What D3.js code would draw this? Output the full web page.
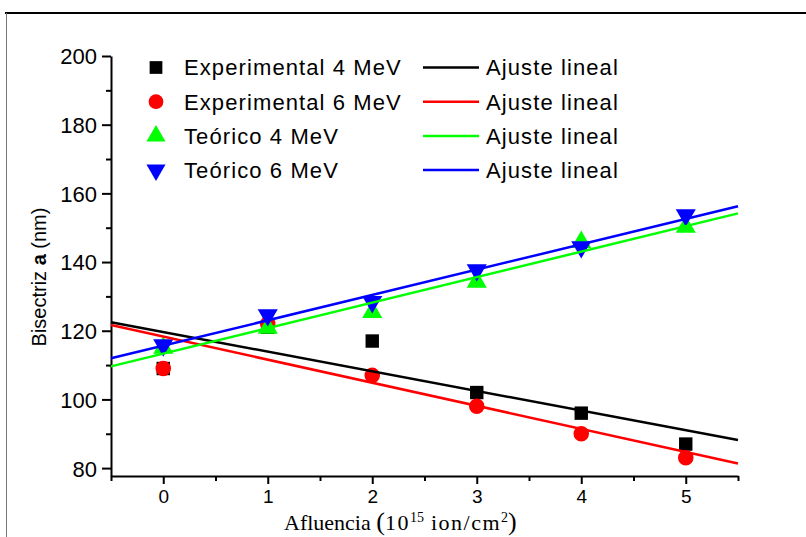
<!DOCTYPE html>
<html>
<head>
<meta charset="utf-8">
<script src="https://cdn.jsdelivr.net/npm/d3@7"></script>
<style>
  body { margin: 0; background: #fff; }
  svg { display: block; font-family: "Liberation Sans", Arial, sans-serif; }
  .axis path, .axis line { stroke: #000; stroke-width: 2; }
  .axis text { fill: #000; }
</style>
</head>
<body>
<div id="chart"></div>
<script>
// fluence (10^15 ion/cm2) and bisector a (nm)
var fluence = [0, 1, 2, 3, 4, 5];
var exp4 = [109, 121, 117, 102, 96, 87];
var exp6 = [109, 122, 107, 98, 90, 83];
var teo4 = [115, 120.8, 125.4, 134.2, 145.8, 150.2];
var teo6 = [115.8, 124.6, 128.4, 137.7, 144.4, 153.7];

var seriesNames = ["Experimental 4 MeV", "Experimental 6 MeV", "Teórico 4 MeV", "Teórico 6 MeV"];
var fitName = "Ajuste lineal";
var yTicks = [80, 100, 120, 140, 160, 180, 200];
var yMinor = [90, 110, 130, 150, 170, 190];
var xTicks = [0, 1, 2, 3, 4, 5];
var xMinor = [-0.5, 0.5, 1.5, 2.5, 3.5, 4.5, 5.5];

var width = 806, height = 537;
var margin = { top: 56, right: 68, bottom: 61, left: 111 };

var svg = d3.select("#chart").append("svg")
    .attr("width", width)
    .attr("height", height);

// outer frame (cut by the picture edges)
svg.append("line").attr("x1", 5).attr("x2", width).attr("y1", 13).attr("y2", 13)
    .attr("stroke", "#000").attr("stroke-width", 2);
svg.append("line").attr("x1", 6.5).attr("x2", 6.5).attr("y1", 13).attr("y2", height)
    .attr("stroke", "#777").attr("stroke-width", 1);

var xScale = d3.scaleLinear()
    .domain([-0.5, 5.5])
    .range([margin.left, width - margin.right]);

var yScale = d3.scaleLinear()
    .domain([77.7, 200])
    .range([height - margin.bottom, margin.top]);

// minor ticks
svg.append("g")
    .attr("class", "axis")
    .attr("transform", "translate(" + margin.left + ",0)")
    .call(d3.axisLeft(yScale).tickValues(yMinor).tickSize(5).tickFormat(""))
    .select(".domain").remove();

svg.append("g")
    .attr("class", "axis")
    .attr("transform", "translate(0," + yScale.range()[0] + ")")
    .call(d3.axisBottom(xScale).tickValues(xMinor).tickSize(5).tickFormat(""))
    .select(".domain").remove();

var yAxis = svg.append("g")
    .attr("class", "axis")
    .attr("transform", "translate(" + margin.left + ",0)")
    .call(d3.axisLeft(yScale).tickValues(yTicks).tickSize(9).tickSizeOuter(0).tickPadding(5));
yAxis.selectAll("text").style("font-size", "22px").attr("dy", "0.36em");

var xAxis = svg.append("g")
    .attr("class", "axis")
    .attr("transform", "translate(0," + yScale.range()[0] + ")")
    .call(d3.axisBottom(xScale).tickValues(xTicks).tickFormat(d3.format("d"))
        .tickSize(8).tickSizeOuter(0).tickPadding(6));
xAxis.selectAll("text").style("font-size", "19px");

// axis titles
var yTitle = svg.append("text")
    .attr("transform", "translate(46," + 277 + ") rotate(-90)")
    .attr("text-anchor", "middle")
    .style("font-size", "20px");
yTitle.append("tspan").text("Bisectriz ");
yTitle.append("tspan").style("font-weight", "bold").text("a");
yTitle.append("tspan").text(" (nm)");

var xTitle = svg.append("text")
    .attr("x", 284)
    .attr("y", 530)
    .style("font-family", "'Liberation Serif', 'Times New Roman', serif")
    .style("font-size", "22px");
xTitle.append("tspan").text("Afluencia ");
xTitle.append("tspan").style("font-size", "26px").text("(");
xTitle.append("tspan").style("letter-spacing", "1.5px").text("10");
xTitle.append("tspan").style("font-size", "14px").attr("dy", -8).text("15");
xTitle.append("tspan").attr("dy", 8).style("letter-spacing", "1.5px").text(" ion/cm");
xTitle.append("tspan").style("font-size", "14px").attr("dy", -8).text("2");
xTitle.append("tspan").style("font-size", "26px").attr("dy", 8).text(")");

var series = [
    { name: seriesNames[0], values: exp4, color: "#000000", symbol: d3.symbolSquare, size: 180, rot: 0 },
    { name: seriesNames[1], values: exp6, color: "#ff0000", symbol: d3.symbolCircle, size: 190, rot: 0 },
    { name: seriesNames[2], values: teo4, color: "#00ff00", symbol: d3.symbolTriangle, size: 175, rot: 0 },
    { name: seriesNames[3], values: teo6, color: "#0000ff", symbol: d3.symbolTriangle, size: 175, rot: 180 }
];

// least squares fit
function fit(xs, ys) {
    var mx = d3.mean(xs), my = d3.mean(ys);
    var sxy = d3.sum(xs, function (x, i) { return (x - mx) * (ys[i] - my); });
    var sxx = d3.sum(xs, function (x) { return (x - mx) * (x - mx); });
    var b = sxy / sxx;
    return { a: my - b * mx, b: b };
}

var plot = svg.append("g");

series.forEach(function (s) {
    plot.selectAll(null)
        .data(s.values)
        .enter()
        .append("path")
        .attr("d", d3.symbol().type(s.symbol).size(s.size))
        .attr("fill", s.color)
        .attr("transform", function (d, i) {
            return "translate(" + xScale(fluence[i]) + "," + yScale(d) + ") rotate(" + s.rot + ")";
        });
});

var line = d3.line()
    .x(function (d) { return xScale(d[0]); })
    .y(function (d) { return yScale(d[1]); });

series.forEach(function (s) {
    var f = fit(fluence, s.values);
    var ends = xScale.domain().map(function (x) { return [x, f.a + f.b * x]; });
    plot.append("path")
        .attr("d", line(ends))
        .attr("fill", "none")
        .attr("stroke", s.color)
        .attr("stroke-width", 2.5);
});

// legend
var legend = svg.append("g")
    .style("font-size", "22px")
    .style("letter-spacing", "1.1px");
series.forEach(function (s, i) {
    var cy = 67.5 + i * 34.2;
    legend.append("path")
        .attr("d", d3.symbol().type(s.symbol).size(s.size * 0.9))
        .attr("fill", s.color)
        .attr("transform", "translate(156," + cy + ") rotate(" + s.rot + ")");
    legend.append("text")
        .attr("x", 184)
        .attr("y", cy)
        .attr("dy", "0.36em")
        .text(s.name);
    legend.append("line")
        .attr("x1", 423).attr("x2", 479)
        .attr("y1", cy).attr("y2", cy)
        .attr("stroke", s.color)
        .attr("stroke-width", 2.5);
    legend.append("text")
        .attr("x", 486)
        .attr("y", cy)
        .attr("dy", "0.36em")
        .text(fitName);
});
</script>
</body>
</html>
